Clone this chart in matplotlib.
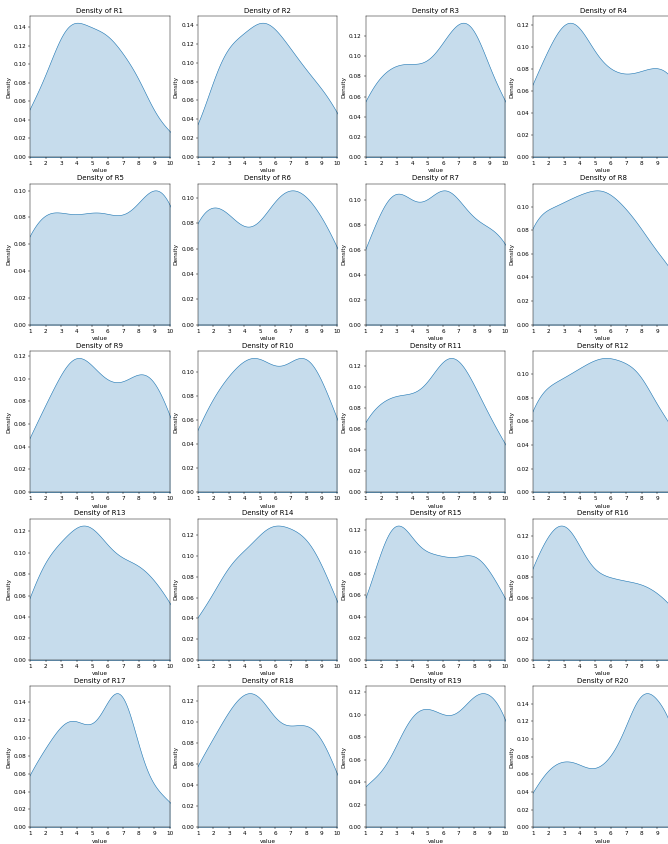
import numpy as np
import matplotlib
matplotlib.use("Agg")
import matplotlib.pyplot as plt
import seaborn as sns

# answers on a 1-10 scale, number of responses per score for each region
scores = np.arange(1, 11)
r1 = [5, 4, 11, 11, 8, 11, 6, 8, 1, 3]
r2 = [1, 6, 10, 7, 12, 9, 8, 6, 5, 4]
r3 = [6, 7, 7, 9, 4, 11, 9, 17, 1, 8]
r4 = [9, 3, 13, 13, 0, 11, 0, 10, 2, 12]
r5 = [8, 3, 8, 0, 7, 7, 0, 6, 6, 11]
r6 = [12, 1, 11, 0, 3, 10, 4, 10, 2, 7]
r7 = [6, 0, 14, 1, 1, 14, 0, 7, 1, 8]
r8 = [15, 3, 12, 7, 11, 10, 7, 9, 2, 7]
r9 = [3, 5, 3, 12, 2, 8, 1, 9, 5, 5]
r10 = [4, 4, 6, 5, 9, 3, 5, 10, 3, 5]
r11 = [6, 2, 5, 5, 0, 10, 5, 5, 2, 3]
r12 = [13, 8, 11, 11, 12, 14, 9, 16, 2, 11]
r13 = [1, 8, 0, 8, 5, 4, 2, 6, 1, 4]
r14 = [4, 1, 8, 4, 7, 9, 5, 9, 4, 4]
r15 = [5, 2, 19, 0, 8, 8, 1, 13, 1, 7]
r16 = [14, 0, 22, 2, 4, 10, 0, 11, 0, 8]
r17 = [5, 4, 7, 9, 3, 7, 16, 0, 3, 2]
r18 = [6, 2, 9, 5, 12, 1, 7, 5, 7, 2]
r19 = [6, 0, 5, 10, 6, 10, 0, 16, 3, 14]
r20 = [8, 14, 14, 15, 7, 17, 13, 42, 18, 33]

regions = ["R%d" % i for i in range(1, 21)]
counts = [r1, r2, r3, r4, r5, r6, r7, r8, r9, r10,
          r11, r12, r13, r14, r15, r16, r17, r18, r19, r20]

W, H = 668, 844
fig = plt.figure(figsize=(16, H / 41.75), dpi=41.75)

for i, (name, cnt) in enumerate(zip(regions, counts)):
    row, col = divmod(i, 4)
    # grid of 4 columns, last one runs a bit past the right edge
    left = 30.3 + 167.7 * col
    top = 16 + 167.6 * row
    ax = fig.add_axes([left / W, 1 - (top + 141) / H, 139.3 / W, 141 / H])
    values = np.repeat(scores, cnt)
    sns.kdeplot(x=values, fill=True, ax=ax)
    ax.set_xlim(1, 10)
    ax.set_xticks(scores)
    ax.set_title("Density of " + name)
    ax.set_xlabel("value")
    ax.set_ylabel("Density")

fig.savefig("out.png")
